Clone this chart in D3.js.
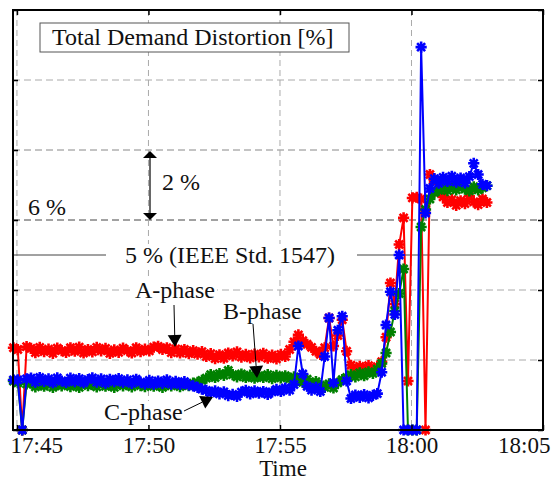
<!DOCTYPE html>
<html>
<head>
<meta charset="utf-8">
<script src="https://cdn.jsdelivr.net/npm/d3@7"></script>
<style>
  html, body { margin: 0; padding: 0; background: #fff; }
  svg { display: block; font-family: "Liberation Serif", "Times New Roman", serif; }
</style>
</head>
<body>
<svg id="chart" width="551" height="481"></svg>
<script>
// Readings are logged every 10 s, the first one at 17:44:52
const sampleStart = new Date(2000, 0, 1, 17, 44, 52);
const sampleStepSec = 10;

// Total demand distortion [%] per phase
const phaseA = [2.35,2.30,0,2.38,
  2.33,2.21,2.36,2.24,2.31,2.19,2.34,2.27,2.22,2.35,
  2.25,2.37,2.20,2.30,2.23,2.36,2.26,2.33,2.19,2.29,
  2.22,2.34,2.27,2.20,2.35,2.24,2.31,2.26,2.37,2.39,
  2.30,2.35,2.21,2.32,2.20,2.30,2.18,2.27,2.17,2.24,
  2.10,2.18,2.04,2.15,2.05,2.20,2.12,2.23,2.08,2.16,
  2.06,2.17,2.09,2.19,2.05,2.14,2.03,2.16,2.10,2.30,
  2.52,2.72,2.55,2.45,2.36,2.25,2.16,2.35,3.20,2.40,
  2.70,3.15,2.25,1.85,1.72,1.82,1.74,1.84,1.73,1.81,
  1.95,2.65,4.20,3.60,5.30,6.06,1.40,6.63,6.65,6.60,
  0,7.30,7.15,6.80,6.66,6.50,6.58,6.42,6.55,6.47,
  6.68,6.52,6.44,6.60,6.50];

const phaseB = [1.40,1.35,0,1.32,
  1.34,1.23,1.32,1.25,1.35,1.22,1.30,1.26,1.33,1.24,
  1.31,1.22,1.34,1.27,1.30,1.23,1.35,1.25,1.29,1.22,
  1.33,1.26,1.31,1.23,1.34,1.27,1.24,1.32,1.25,1.30,
  1.22,1.31,1.26,1.33,1.24,1.30,1.27,1.34,1.36,1.42,
  1.48,1.58,1.50,1.61,1.56,1.70,1.58,1.52,1.60,1.50,
  1.57,1.48,1.55,1.50,1.58,1.47,1.56,1.49,1.55,1.46,
  1.52,1.42,1.36,1.45,1.33,1.38,1.28,1.22,1.32,1.20,
  1.35,1.44,1.50,1.58,1.52,1.63,1.55,1.66,1.62,1.74,
  1.90,2.20,2.80,3.40,3.90,4.60,0,0,0,5.80,
  6.30,6.60,6.78,6.85,6.94,6.84,6.95,6.86,6.98,6.88,
  6.83,6.95,6.86,6.92,6.98];

const phaseC = [1.43,1.43,0,1.46,
  1.48,1.37,1.50,1.39,1.46,1.35,1.49,1.40,1.36,1.48,
  1.38,1.47,1.35,1.44,1.49,1.37,1.46,1.34,1.45,1.38,
  1.47,1.36,1.43,1.33,1.45,1.37,1.32,1.42,1.31,1.40,
  1.33,1.43,1.31,1.39,1.30,1.38,1.29,1.26,1.22,1.17,
  1.13,1.06,1.12,1.03,1.09,0.98,1.02,0.96,1.08,1.13,
  1.03,1.12,1.05,1.10,1.02,1.09,1.16,1.10,1.20,1.14,
  1.30,2.40,1.60,1.25,1.14,1.22,1.10,2.10,3.20,1.35,
  2.85,3.25,1.40,0.90,1.00,0.93,1.01,0.92,0.99,1.04,
  1.65,3.00,3.95,3.30,5.00,0,0,0,0,10.94,
  6.20,6.90,7.18,7.05,7.22,7.10,7.25,7.08,7.20,7.06,
  7.24,7.62,7.30,7.02,6.98];

const tickLabels = ["17:45", "17:50", "17:55", "18:00", "18:05"];
const yTickValues = [0, 2, 4, 6, 8, 10, 12];
const limitValue = 5;      // IEEE Std. 1547 limit
const markValue = 6;       // reference level
const spanValue = 2;       // grid spacing shown by the double arrow

const seriesList = [
  { name: "A-phase", values: phaseA, color: "#ff0000" },
  { name: "B-phase", values: phaseB, color: "#008000" },
  { name: "C-phase", values: phaseC, color: "#0000ff" }
];

const svg = d3.select("#chart");
const frame = { left: 13, right: 543, top: 10, bottom: 430 };

const parseHM = s => { const [h, m] = s.split(":").map(Number); return new Date(2000, 0, 1, h, m, 0); };
const tickTimes = tickLabels.map(parseHM);

const x = d3.scaleTime()
  .domain([new Date(2000, 0, 1, 17, 44, 51), tickTimes[tickTimes.length - 1]])
  .range([frame.left, frame.right]);
const y = d3.scaleLinear().domain([0, 12]).range([frame.bottom, frame.top]);

const timeAt = i => new Date(sampleStart.getTime() + i * sampleStepSec * 1000);

// ---- grid ----
const grid = svg.append("g");
grid.selectAll("line.h").data(yTickValues.filter(v => v > 0 && v < 12)).join("line")
  .attr("x1", frame.left).attr("x2", frame.right)
  .attr("y1", d => y(d)).attr("y2", d => y(d))
  .attr("stroke", d => d === markValue ? "#444" : (d === markValue + spanValue ? "#888" : "#aaa"))
  .attr("stroke-width", 1).attr("stroke-dasharray", "7,4");
grid.selectAll("line.v").data(tickTimes).join("line")
  .attr("x1", d => x(d)).attr("x2", d => x(d))
  .attr("y1", frame.top).attr("y2", frame.bottom)
  .attr("stroke", "#aaa").attr("stroke-width", 1).attr("stroke-dasharray", "6,4");

// ---- limit line with its label ----
const limitY = y(limitValue);
svg.append("line").attr("x1", frame.left).attr("x2", 106)
  .attr("y1", limitY).attr("y2", limitY).attr("stroke", "#444").attr("stroke-width", 1);
svg.append("line").attr("x1", 357).attr("x2", frame.right)
  .attr("y1", limitY).attr("y2", limitY).attr("stroke", "#444").attr("stroke-width", 1);

// label helper with a white backing box
function label(text, px, py, size) {
  const g = svg.append("g");
  const t = g.append("text").attr("x", px).attr("y", py)
    .attr("font-size", size).attr("fill", "#111").text(text);
  const b = t.node().getBBox();
  g.insert("rect", "text").attr("x", b.x - 2).attr("y", b.y + 2)
    .attr("width", b.width + 4).attr("height", b.height - 2).attr("fill", "#fff");
  return g;
}
label("5 % (IEEE Std. 1547)", 125, 263, 24);
label("A-phase", 135, 298, 24);
label("B-phase", 223, 319, 24);
label("C-phase", 104, 420, 24);

// ---- data ----
const line = d3.line().x((d, i) => x(timeAt(i))).y(d => y(d));
const r = 5.6, k = 4.0;
const starPath = `M${-r},0L${r},0M0,${-r}L0,${r}M${-k},${-k}L${k},${k}M${-k},${k}L${k},${-k}`;

seriesList.forEach(s => {
  const g = svg.append("g");
  g.append("path").datum(s.values).attr("d", line)
    .attr("fill", "none").attr("stroke", s.color).attr("stroke-width", 2);
  g.selectAll("path.m").data(s.values).join("path")
    .attr("class", "m")
    .attr("transform", (d, i) => `translate(${x(timeAt(i))},${y(d)})`)
    .attr("d", starPath)
    .attr("fill", "none").attr("stroke", s.color).attr("stroke-width", 2.6);
});

// ---- frame and ticks ----
svg.append("rect").attr("x", frame.left).attr("y", frame.top)
  .attr("width", frame.right - frame.left).attr("height", frame.bottom - frame.top)
  .attr("fill", "none").attr("stroke", "#000").attr("stroke-width", 2);

const axB = svg.append("g").attr("transform", `translate(0,${frame.bottom})`)
  .call(d3.axisBottom(x).tickValues(tickTimes).tickFormat(d3.timeFormat("%H:%M")).tickSize(-5).tickPadding(0));
const axT = svg.append("g").attr("transform", `translate(0,${frame.top})`)
  .call(d3.axisTop(x).tickValues(tickTimes).tickFormat("").tickSize(-5));
const axL = svg.append("g").attr("transform", `translate(${frame.left},0)`)
  .call(d3.axisLeft(y).tickValues(yTickValues).tickFormat("").tickSize(-5));
const axR = svg.append("g").attr("transform", `translate(${frame.right},0)`)
  .call(d3.axisRight(y).tickValues(yTickValues).tickFormat("").tickSize(-5));
[axB, axT, axL, axR].forEach(a => {
  a.select(".domain").remove();
  a.selectAll(".tick line").attr("stroke", "#000").attr("stroke-width", 1.5);
});
axB.selectAll("text")
  .attr("font-family", "Liberation Serif, Times New Roman, serif")
  .attr("font-size", 23).attr("fill", "#111")
  .attr("dy", null).attr("y", 23);
const labs = axB.selectAll("text").nodes();
d3.select(labs[0]).attr("text-anchor", "start").attr("x", 10 - x(tickTimes[0]));
d3.select(labs[labs.length - 1]).attr("text-anchor", "end").attr("x", 550 - x(tickTimes[tickTimes.length - 1]));

svg.append("text").attr("x", 283).attr("y", 476).attr("text-anchor", "middle")
  .attr("font-size", 23).attr("fill", "#111").text("Time");

// ---- title box ----
svg.append("rect").attr("x", 40).attr("y", 23).attr("width", 309).attr("height", 29)
  .attr("fill", "#fff").attr("stroke", "#555").attr("stroke-width", 1);
svg.append("text").attr("x", 52).attr("y", 45).attr("font-size", 24).attr("fill", "#111")
  .text("Total Demand Distortion [%]");

// ---- reference level and span annotation ----
svg.append("text").attr("x", 28).attr("y", 215).attr("font-size", 24).attr("fill", "#111").text(markValue + " %");
svg.append("text").attr("x", 162).attr("y", 190).attr("font-size", 24).attr("fill", "#111").text(spanValue + " %");

const ax = 150;
const yTop = y(markValue + spanValue), yBot = y(markValue);
svg.append("line").attr("x1", ax).attr("x2", ax).attr("y1", yTop + 6).attr("y2", yBot - 6)
  .attr("stroke", "#000").attr("stroke-width", 1.2);
svg.append("path").attr("d", `M${ax},${yTop + 1}L${ax - 7},${yTop + 8}L${ax + 7},${yTop + 8}Z`).attr("fill", "#000");
svg.append("path").attr("d", `M${ax},${yBot}L${ax - 7},${yBot - 7}L${ax + 7},${yBot - 7}Z`).attr("fill", "#000");

// ---- phase pointer arrows ----
function pointer(x1, y1, x2, y2) {
  const ang = Math.atan2(y2 - y1, x2 - x1);
  const len = 12, half = 7;
  const bx = x2 - len * Math.cos(ang), by = y2 - len * Math.sin(ang);
  const px = -Math.sin(ang) * half, py = Math.cos(ang) * half;
  svg.append("line").attr("x1", x1).attr("y1", y1).attr("x2", bx).attr("y2", by)
    .attr("stroke", "#000").attr("stroke-width", 1);
  svg.append("path").attr("d", `M${x2},${y2}L${bx + px},${by + py}L${bx - px},${by - py}Z`).attr("fill", "#000");
}
pointer(174, 305, 175, 347);
pointer(253, 324, 257, 378);
pointer(184, 411, 213, 397);
</script>
</body>
</html>
